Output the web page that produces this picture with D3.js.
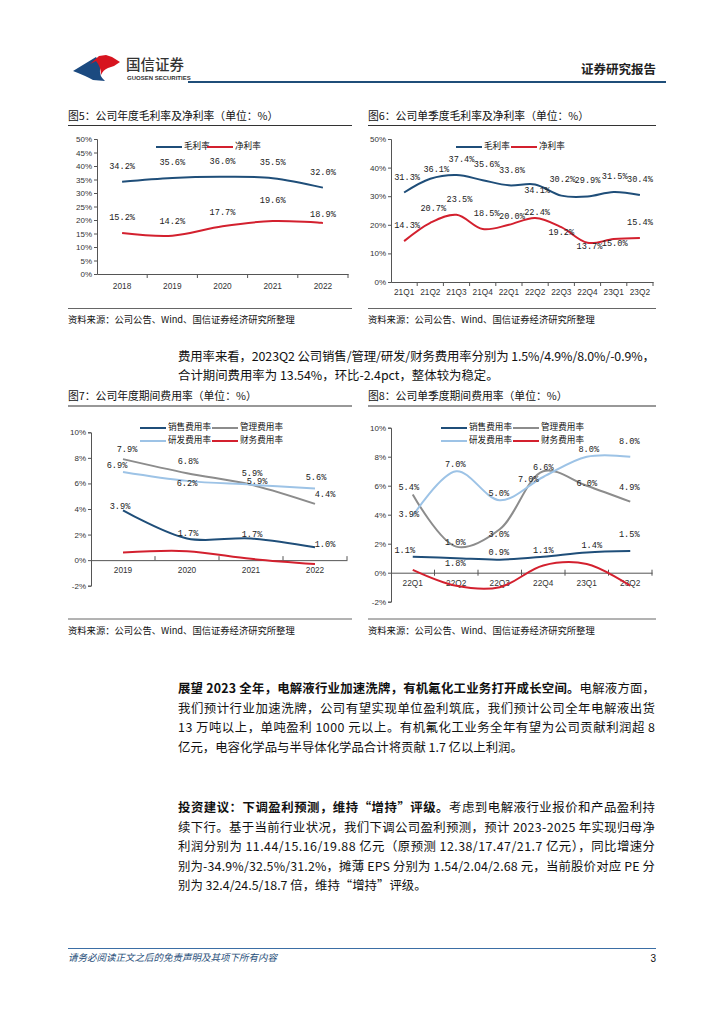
<!DOCTYPE html>
<html><head><meta charset="utf-8">
<script src="https://cdn.jsdelivr.net/npm/d3@7"></script>
<style>
body{margin:0;background:#fff;}
svg{display:block;}
</style></head><body>
<svg id="page" width="724" height="1024"></svg>
<script>
// ---------------- DATA ----------------
const annualYears = ["2018","2019","2020","2021","2022"];
const annualGross = [34.2,35.6,36.0,35.5,32.0];
const annualNet   = [15.2,14.2,17.7,19.6,18.9];

const quarters10 = ["21Q1","21Q2","21Q3","21Q4","22Q1","22Q2","22Q3","22Q4","23Q1","23Q2"];
const qGross = [31.3,36.1,37.4,35.6,33.8,34.1,30.2,29.9,31.5,30.4];
const qNet   = [14.3,20.7,23.5,18.5,20.0,22.4,19.2,13.7,15.0,15.4];

const feeYears = ["2019","2020","2021","2022"];
const feeSales = [3.9,1.7,1.7,1.0];
const feeAdmin = [7.9,6.8,5.9,4.4];
const feeRD    = [6.9,6.2,5.9,5.6];
const feeFin   = [0.6,0.7,0.1,-0.3];

const quarters6 = ["22Q1","22Q2","22Q3","22Q4","23Q1","23Q2"];
const qSales = [1.1,1.0,0.9,1.1,1.4,1.5];
const qAdmin = [5.4,1.8,3.0,7.0,6.0,4.9];
const qRD    = [3.9,7.0,5.0,6.6,8.0,8.0];
const qFin   = [0.2,-0.9,-1.0,0.5,0.6,-0.9];

const marginTicks = [0,5,10,15,20,25,30,35,40,45,50];
const quarterMarginTicks = [0,10,20,30,40,50];
const feeTicks = [-2,0,2,4,6,8,10];

// ---------------- STYLE ----------------
const C = {dark:"#1f4e79", red:"#d3202e", gray:"#8c8c8c", light:"#9dc3e6", axis:"#555"};
const CJK = "'Noto Sans CJK SC','Noto Sans',sans-serif";
const NUM = "'Liberation Mono','DejaVu Sans Mono',monospace";
const svg = d3.select("#page");

// label nudges (layout only): [dx, dy] in px relative to the point
const nud = {
  aG:[[0,-15],[0,-15],[0,-15],[0,-15],[0,-15]],
  aN:[[0,-15],[0,-14],[0,-13],[0,-20],[0,-8]],
  qG:[[3,-15],[6,-9],[5,-15],[4,-15],[3,-15],[2,6],[1,-16],[0,-16],[1,-15],[0,-15]],
  qN:[[3,-15],[3,-14],[3,-15],[4,-15],[3,-8],[2,-5],[0,6],[2,4],[1,5],[0,-15]],
  fS:[[-3,-4],[1,-5],[1,-4],[10,-3]],
  fA:[[4,-9],[1,-11],[1,-11],[10,-9]],
  fR:[[-6,-6],[0,3],[6,-3],[1,-11]],
  sS:[[-8,-6],[-1,-15],[-1,-7],[0,-6],[5,-7],[-1,-16]],
  sA:[[-4,-7],[-1,17],[-1,6],[-15,9],[0,-2],[-1,-14]],
  sR:[[-4,-1],[-1,-6],[-1,-6],[0,-9],[2,-7],[-1,-15]]
};

// ---------------- HEADER ----------------
const hdr = svg.append("g");
hdr.append("path").attr("d","M73,71 L96,57 Q101,63 100,69 Q99,76 105,81 L93,80 Q86,76 73,71 Z").attr("fill","#1b4a80");
hdr.append("path").attr("d","M90,64 L99,56 L106,55 L112,57 L120,62 L114,66 L108,68 Q103,70 101,75 Q101,67 96,61 Z").attr("fill","#d7141f");
hdr.append("text").attr("x",126).attr("y",70).attr("font-family",CJK).attr("font-size",14.5).attr("font-weight",500).attr("fill","#333").text("国信证券");
hdr.append("text").attr("x",127).attr("y",80).attr("font-family","'Liberation Sans',sans-serif").attr("font-size",6).attr("font-weight",700).attr("fill","#333").text("GUOSEN SECURITIES");
hdr.append("line").attr("x1",188).attr("x2",666).attr("y1",82).attr("y2",82).attr("stroke",C.dark).attr("stroke-width",2.2);
hdr.append("text").attr("x",656).attr("y",74).attr("text-anchor","end").attr("font-family",CJK).attr("font-size",12.5).attr("font-weight",700).attr("fill","#222").text("证券研究报告");

// ---------------- CHART FUNCTION ----------------
function chart(cfg){
  const g = svg.append("g");
  g.append("text").attr("x",cfg.px0).attr("y",cfg.titleY).attr("font-family",CJK).attr("font-size",10.8).attr("fill","#111").text(cfg.title);
  g.append("line").attr("x1",cfg.px0).attr("x2",cfg.px1).attr("y1",cfg.ulY).attr("y2",cfg.ulY).attr("stroke","#333").attr("stroke-width",1.2);
  g.append("line").attr("x1",cfg.px0).attr("x2",cfg.px1).attr("y1",cfg.blY).attr("y2",cfg.blY).attr("stroke","#666").attr("stroke-width",1);
  g.append("text").attr("x",cfg.px0).attr("y",cfg.srcY).attr("font-family",CJK).attr("font-size",9.3).attr("fill","#111").text("资料来源：公司公告、Wind、国信证券经济研究所整理");

  const y = d3.scaleLinear().domain(cfg.yDomain).range([cfg.bottom,cfg.top]);
  const x = d3.scaleBand().domain(cfg.cats).range([cfg.left,cfg.right]);
  const y0 = y(0);

  const ya = g.append("g").attr("transform",`translate(${cfg.left},0)`)
    .call(d3.axisLeft(y).tickValues(cfg.ticks).tickSize(3).tickFormat(d=>d+"%"));
  ya.select(".domain").attr("stroke",C.axis);
  ya.selectAll(".tick line").attr("stroke",C.axis);
  ya.selectAll(".tick text").attr("font-family","'Liberation Sans',sans-serif").attr("font-size",8).attr("fill","#333").attr("x",-5);

  const xa = g.append("g").attr("transform",`translate(0,${y0})`)
    .call(d3.axisBottom(x).tickSize(0).tickPadding(cfg.xPad));
  xa.select(".domain").attr("stroke",C.axis);
  xa.selectAll(".tick text").attr("font-family","'Liberation Sans',sans-serif").attr("font-size",8.3).attr("fill","#333");
  const bounds = cfg.cats.map(c=>x(c)+x.bandwidth());
  g.selectAll(null).data(bounds).enter().append("line")
    .attr("x1",d=>d).attr("x2",d=>d).attr("y1",y0+cfg.tick[0]).attr("y2",y0+cfg.tick[1]).attr("stroke",C.axis);

  const line = d3.line().x((d,i)=>x(cfg.cats[i])+x.bandwidth()/2).y(d=>y(d)).curve(d3.curveCatmullRom.alpha(0.5));
  cfg.series.forEach(s=>{
    g.append("path").datum(s.values).attr("d",line).attr("fill","none").attr("stroke",s.color).attr("stroke-width",2);
  });
  cfg.series.forEach(s=>{
    if(!s.nudge) return;
    g.selectAll(null).data(s.values).enter().append("text")
      .attr("x",(d,i)=>x(cfg.cats[i])+x.bandwidth()/2+s.nudge[i][0])
      .attr("y",(d,i)=>y(d)+s.nudge[i][1])
      .attr("text-anchor","middle").attr("dominant-baseline","middle")
      .attr("font-family",NUM).attr("font-size",8.6).attr("fill","#222")
      .text(d=>d.toFixed(1)+"%");
  });
  cfg.legend.forEach(l=>{
    const s = cfg.series[l.i];
    g.append("line").attr("x1",l.x).attr("x2",l.x+cfg.legLen).attr("y1",l.y).attr("y2",l.y).attr("stroke",s.color).attr("stroke-width",2);
    g.append("text").attr("x",l.x+cfg.legLen+2).attr("y",l.y).attr("dominant-baseline","middle").attr("font-family",CJK).attr("font-size",8.6).attr("fill","#111").text(s.name);
  });
}

chart({title:"图5：公司年度毛利率及净利率（单位：%）",px0:68,px1:352,titleY:120,ulY:125.5,blY:308.5,srcY:323,
  left:97,right:348,top:139,bottom:274,yDomain:[0,50],ticks:marginTicks,cats:annualYears,xPad:9,tick:[0,4],
  series:[{name:"毛利率",values:annualGross,color:C.dark,nudge:nud.aG},{name:"净利率",values:annualNet,color:C.red,nudge:nud.aN}],
  legLen:26,legend:[{i:0,x:156,y:147},{i:1,x:207,y:147}]});

chart({title:"图6：公司单季度毛利率及净利率（单位：%）",px0:368,px1:656,titleY:120,ulY:125.5,blY:308.5,srcY:323,
  left:391,right:653,top:139,bottom:282,yDomain:[0,50],ticks:quarterMarginTicks,cats:quarters10,xPad:7,tick:[0,4],
  series:[{name:"毛利率",values:qGross,color:C.dark,nudge:nud.qG},{name:"净利率",values:qNet,color:C.red,nudge:nud.qN}],
  legLen:26,legend:[{i:0,x:456,y:147},{i:1,x:511,y:147}]});

chart({title:"图7：公司年度期间费用率（单位：%）",px0:68,px1:352,titleY:400,ulY:406,blY:619,srcY:634,
  left:91,right:347,top:432.3,bottom:585.7,yDomain:[-2,10],ticks:feeTicks,cats:feeYears,xPad:7,tick:[-4,0],
  series:[{name:"销售费用率",values:feeSales,color:C.dark,nudge:nud.fS},{name:"管理费用率",values:feeAdmin,color:C.gray,nudge:nud.fA},
          {name:"研发费用率",values:feeRD,color:C.light,nudge:nud.fR},{name:"财务费用率",values:feeFin,color:C.red}],
  legLen:26,legend:[{i:0,x:140,y:428},{i:1,x:212,y:428},{i:2,x:140,y:441},{i:3,x:212,y:441}]});

chart({title:"图8：公司单季度期间费用率（单位：%）",px0:368,px1:656,titleY:400,ulY:406,blY:619,srcY:634,
  left:391,right:652,top:427.7,bottom:601.7,yDomain:[-2,10],ticks:feeTicks,cats:quarters6,xPad:7,tick:[-3,3],
  series:[{name:"销售费用率",values:qSales,color:C.dark,nudge:nud.sS},{name:"管理费用率",values:qAdmin,color:C.gray,nudge:nud.sA},
          {name:"研发费用率",values:qRD,color:C.light,nudge:nud.sR},{name:"财务费用率",values:qFin,color:C.red}],
  legLen:26,legend:[{i:0,x:441,y:428},{i:1,x:513,y:428},{i:2,x:441,y:441},{i:3,x:513,y:441}]});

// ---------------- BODY TEXT ----------------
const TX0 = 178, TX1 = 655, FS = 12.4;
function para(lines, y0, lh){
  lines.forEach((ln,k)=>{
    const t = svg.append("text").attr("x",TX0).attr("y",y0+k*lh).attr("font-family",CJK).attr("font-size",FS).attr("fill","#111");
    ln.parts.forEach(p=>{ t.append("tspan").attr("font-weight",p.b?700:400).text(p.t); });
    if(ln.j){
      const n = t.text().length;
      const w = t.node().getComputedTextLength();
      t.attr("letter-spacing",(TX1-TX0-w)/(n-1));
    }
  });
}
para([
 {j:true,parts:[{t:"费用率来看，2023Q2 公司销售/管理/研发/财务费用率分别为 1.5%/4.9%/8.0%/-0.9%，"}]},
 {parts:[{t:"合计期间费用率为 13.54%，环比-2.4pct，整体较为稳定。"}]}
],361,18.5);
para([
 {j:true,parts:[{t:"展望 2023 全年，电解液行业加速洗牌，有机氟化工业务打开成长空间。",b:true},{t:"电解液方面，"}]},
 {j:true,parts:[{t:"我们预计行业加速洗牌，公司有望实现单位盈利筑底，我们预计公司全年电解液出货"}]},
 {j:true,parts:[{t:"13 万吨以上，单吨盈利 1000 元以上。有机氟化工业务全年有望为公司贡献利润超 8"}]},
 {parts:[{t:"亿元，电容化学品与半导体化学品合计将贡献 1.7 亿以上利润。"}]}
],693,19.5);
para([
 {j:true,parts:[{t:"投资建议：下调盈利预测，维持“增持”评级。",b:true},{t:"考虑到电解液行业报价和产品盈利持"}]},
 {j:true,parts:[{t:"续下行。基于当前行业状况，我们下调公司盈利预测，预计 2023-2025 年实现归母净"}]},
 {j:true,parts:[{t:"利润分别为 11.44/15.16/19.88 亿元（原预测 12.38/17.47/21.7 亿元），同比增速分"}]},
 {j:true,parts:[{t:"别为-34.9%/32.5%/31.2%，摊薄 EPS 分别为 1.54/2.04/2.68 元，当前股价对应 PE 分"}]},
 {parts:[{t:"别为 32.4/24.5/18.7 倍，维持“增持”评级。"}]}
],812,19.5);

// ---------------- FOOTER ----------------
svg.append("line").attr("x1",68).attr("x2",656).attr("y1",948.5).attr("y2",948.5).attr("stroke","#3b6ea5").attr("stroke-width",1);
svg.append("text").attr("x",68).attr("y",961).attr("font-family",CJK).attr("font-style","italic").attr("font-size",9.5).attr("fill","#1f4e79").text("请务必阅读正文之后的免责声明及其项下所有内容");
svg.append("text").attr("x",656).attr("y",962).attr("text-anchor","end").attr("font-family","'Liberation Sans',sans-serif").attr("font-size",10).attr("fill","#111").text("3");
</script>
</body></html>
